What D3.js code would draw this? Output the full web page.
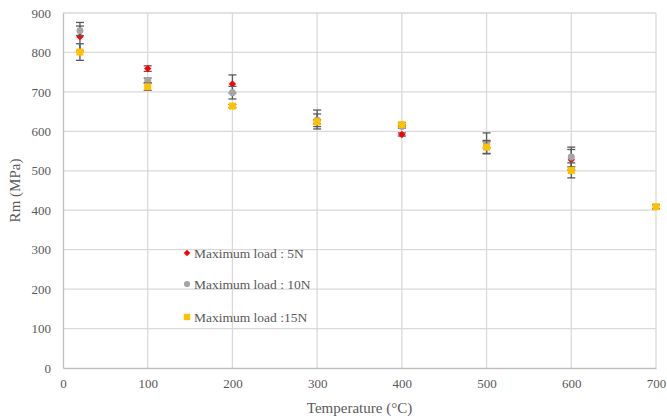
<!DOCTYPE html>
<html>
<head>
<meta charset="utf-8">
<script src="https://cdn.jsdelivr.net/npm/d3@7"></script>
<style>
html,body{margin:0;padding:0;background:#fff;}
svg{display:block;font-family:"Liberation Serif","Times New Roman",serif;}
</style>
</head>
<body>
<svg id="chart" width="667" height="419"></svg>
<script>
const temps = [20, 100, 200, 300, 400, 500, 600, 700];
const load5N  = [840, 759, 720, 630, 592, 566, 528, null];
const err5N   = [36, 7, 23, 24, 4, 8, 26, null];
const load10N = [855, 729, 698, 628, 612, 570, 535, null];
const err10N  = [12, 6, 16, 16, 4, 26, 25, null];
const load15N = [801, 713, 664, 624, 617, 560, 501, 409];
const err15N  = [21, 9, 4, 5, 5, 17, 19, 5];
const xTicks = [0, 100, 200, 300, 400, 500, 600, 700];
const yTicks = [0, 100, 200, 300, 400, 500, 600, 700, 800, 900];
const seriesNames = ["Maximum load : 5N", "Maximum load : 10N", "Maximum load :15N"];
const seriesColors = ["#ff0000", "#a5a5a5", "#ffc000"];

const svg = d3.select("#chart");
const m = {left: 63, right: 11, top: 13, bottom: 51};
const W = 667, H = 419;
const x = d3.scaleLinear().domain([0, 700]).range([m.left, W - m.right]);
const y = d3.scaleLinear().domain([0, 900]).range([H - m.bottom, m.top]);

const textCol = "#595959";

// gridlines
svg.append("g").selectAll("line.h").data(yTicks.slice(1)).join("line")
  .attr("x1", x(0)).attr("x2", x(700))
  .attr("y1", d => y(d)).attr("y2", d => y(d))
  .attr("stroke", "#d9d9d9").attr("stroke-width", 1.3);
svg.append("g").selectAll("line.v").data(xTicks.slice(1)).join("line")
  .attr("y1", y(0)).attr("y2", y(900))
  .attr("x1", d => x(d)).attr("x2", d => x(d))
  .attr("stroke", "#d9d9d9").attr("stroke-width", 1.3);

// axes
const xAxis = d3.axisBottom(x).tickValues(xTicks).tickSize(0).tickPadding(11);
const gx = svg.append("g").attr("transform", `translate(0,${y(0)})`).call(xAxis);
gx.select(".domain").attr("stroke", "#bfbfbf").attr("stroke-width", 1.3);
gx.selectAll("text").attr("fill", textCol).attr("font-size", 13).attr("font-family", "Liberation Serif");

const yAxis = d3.axisLeft(y).tickValues(yTicks).tickSize(0).tickPadding(12);
const gy = svg.append("g").attr("transform", `translate(${x(0)},0)`).call(yAxis);
gy.select(".domain").attr("stroke", "#bfbfbf").attr("stroke-width", 1.3);
gy.selectAll("text").attr("fill", textCol).attr("font-size", 13).attr("font-family", "Liberation Serif");

// axis titles
svg.append("text").attr("x", (x(0) + x(700)) / 2).attr("y", 413)
  .attr("text-anchor", "middle").attr("fill", textCol).attr("font-size", 15)
  .text("Temperature (°C)");
svg.append("text").attr("transform", `translate(20,${(y(0)+y(900))/2}) rotate(-90)`)
  .attr("text-anchor", "middle").attr("fill", textCol).attr("font-size", 15)
  .text("Rm (MPa)");

const seriesVals = [load5N, load10N, load15N];
const seriesErrs = [err5N, err10N, err15N];
const symbols = [d3.symbolDiamond2, d3.symbolCircle, d3.symbolSquare];
const symSizes = [34, 38, 50];

seriesVals.forEach((vals, si) => {
  const data = temps.map((t, i) => ({t, v: vals[i], e: seriesErrs[si][i]})).filter(d => d.v != null);
  const g = svg.append("g");
  // error bars
  const eb = g.selectAll("g.eb").data(data).join("g");
  eb.append("line").attr("x1", d => x(d.t)).attr("x2", d => x(d.t))
    .attr("y1", d => y(d.v + d.e)).attr("y2", d => y(d.v - d.e))
    .attr("stroke", "#595959").attr("stroke-width", 1.3);
  [1, -1].forEach(s => {
    eb.append("line").attr("x1", d => x(d.t) - 4).attr("x2", d => x(d.t) + 4)
      .attr("y1", d => y(d.v + s * d.e)).attr("y2", d => y(d.v + s * d.e))
      .attr("stroke", "#595959").attr("stroke-width", 1.3);
  });
  g.selectAll("path.pt").data(data).join("path")
    .attr("d", d3.symbol().type(symbols[si]).size(symSizes[si]))
    .attr("transform", d => `translate(${x(d.t)},${y(d.v)})`)
    .attr("fill", seriesColors[si]);
});

// legend
const legY = [253, 284, 317];
const lg = svg.append("g");
seriesNames.forEach((n, i) => {
  lg.append("path").attr("d", d3.symbol().type(symbols[i]).size(symSizes[i] * 0.8)())
    .attr("transform", `translate(187,${legY[i]})`).attr("fill", seriesColors[i]);
  lg.append("text").attr("x", 194).attr("y", legY[i]).attr("dy", "0.35em")
    .attr("fill", textCol).attr("font-size", 13.5).text(n);
});
</script>
</body>
</html>
